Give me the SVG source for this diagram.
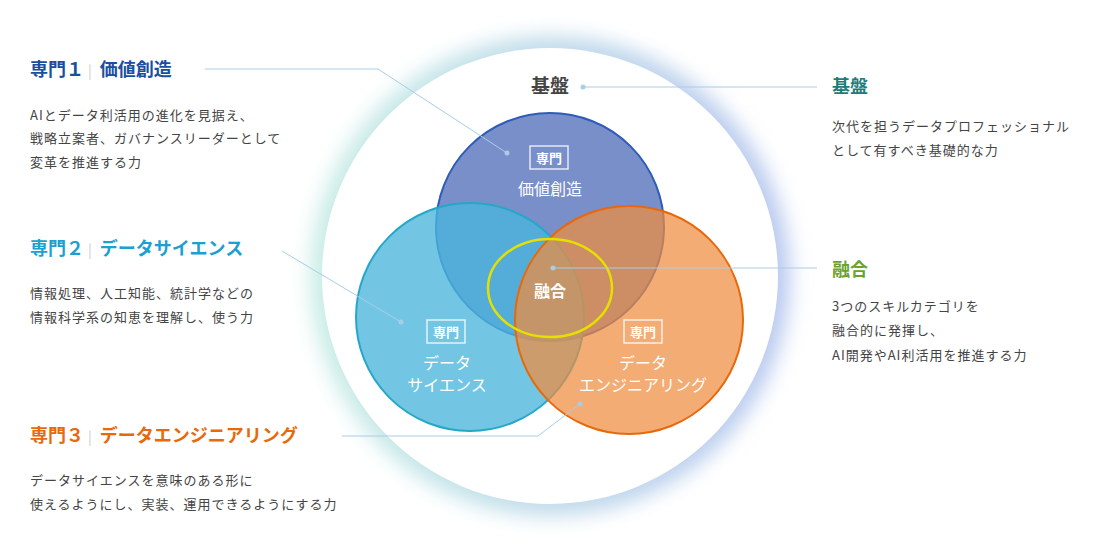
<svg xmlns="http://www.w3.org/2000/svg" width="1100" height="552" viewBox="0 0 1100 552">
<defs>
<linearGradient id="g" x1="0" y1="0" x2="1" y2="0"><stop offset="0" stop-color="#c9eee6"/><stop offset="1" stop-color="#b9c9f0"/></linearGradient>
<filter id="b" x="-20%" y="-20%" width="140%" height="140%"><feGaussianBlur stdDeviation="10"/></filter>
<style>
text{font-family:"Noto Sans CJK JP","Noto Sans",sans-serif}
.h{font-size:18px;font-weight:bold}
.p{font-size:13px;fill:#444;letter-spacing:1px}
.w{fill:#fff;font-size:16px;text-anchor:middle}
.bx{fill:none;stroke:#fff;stroke-width:1.5;opacity:.8}
.bt{fill:#fff;font-size:13px;font-weight:bold;text-anchor:middle}
.ln{fill:none;stroke:#a9cde6;stroke-width:1}
.dot{fill:#a9cde6}
</style>
</defs>
<rect width="1100" height="552" fill="#fff"/>
<g id="base">
<circle cx="550" cy="276" r="240" fill="url(#g)" filter="url(#b)"/>
<circle cx="550" cy="276" r="228" fill="#fff"/>
<text x="550" y="93" text-anchor="middle" font-size="19" font-weight="bold" fill="#444">基盤</text>
</g>
<g id="value">
<circle cx="550" cy="227" r="114" fill="#5a76bd" fill-opacity=".82" stroke="#2e5cb8" stroke-width="2"/>
</g>
<g id="science">
<circle cx="470" cy="317" r="114" fill="#4ab6dc" fill-opacity=".78" stroke="#25a8c8" stroke-width="2"/>
</g>
<g id="engineering">
<circle cx="629" cy="320" r="114" fill="#ee8c3e" fill-opacity=".72" stroke="#e8680a" stroke-width="2"/>
</g>
<g id="fusion">
<ellipse cx="550" cy="288" rx="62" ry="49" fill="none" stroke="#e6e000" stroke-width="2.5"/>
<text x="550" y="297" class="w" font-weight="bold">融合</text>
</g>
<g id="labels">
<rect x="530" y="146" width="38" height="23" class="bx"/><text x="549" y="163" class="bt">専門</text>
<text x="550" y="195" class="w">価値創造</text>
<rect x="427" y="320" width="38" height="23" class="bx"/><text x="446" y="337" class="bt">専門</text>
<text x="447" y="369" class="w">データ</text><text x="447" y="391" class="w">サイエンス</text>
<rect x="624" y="320" width="38" height="23" class="bx"/><text x="643" y="337" class="bt">専門</text>
<text x="643" y="369" class="w">データ</text><text x="643" y="391" class="w">エンジニアリング</text>
</g>
<g id="connectors">
<polyline class="ln" points="205,69 378,69 507,153"/><circle class="dot" cx="507" cy="153" r="2.5"/>
<line class="ln" x1="282" y1="251" x2="401" y2="322"/><circle class="dot" cx="401" cy="322" r="2.5"/>
<polyline class="ln" points="342,436 538,436 580,404"/><circle class="dot" cx="580" cy="404" r="2.5"/>
<line class="ln" x1="583" y1="87" x2="817" y2="87"/><circle class="dot" cx="583" cy="87" r="2.5"/>
<line class="ln" x1="553" y1="268" x2="817" y2="268"/><circle class="dot" cx="553" cy="268" r="2.5"/>
</g>
<g id="t1">
<text x="30" y="76" class="h" fill="#1a4fa0">専門１<tspan fill="#ccc" font-weight="normal" font-size="14" dx="4">|</tspan><tspan dx="8">価値創造</tspan></text>
<text x="30" y="120" class="p">AIとデータ利活用の進化を見据え、</text>
<text x="30" y="143" class="p">戦略立案者、ガバナンスリーダーとして</text>
<text x="30" y="167" class="p">変革を推進する力</text>
</g>
<g id="t2">
<text x="30" y="255" class="h" fill="#1aa0d2">専門２<tspan fill="#ccc" font-weight="normal" font-size="14" dx="4">|</tspan><tspan dx="8">データサイエンス</tspan></text>
<text x="30" y="298" class="p">情報処理、人工知能、統計学などの</text>
<text x="30" y="322" class="p">情報科学系の知恵を理解し、使う力</text>
</g>
<g id="t3">
<text x="30" y="442" class="h" fill="#e8680a">専門３<tspan fill="#ccc" font-weight="normal" font-size="14" dx="4">|</tspan><tspan dx="8">データエンジニアリング</tspan></text>
<text x="30" y="485" class="p">データサイエンスを意味のある形に</text>
<text x="30" y="509" class="p">使えるようにし、実装、運用できるようにする力</text>
</g>
<g id="t4">
<text x="832" y="93" class="h" fill="#1e7d7a">基盤</text>
<text x="832" y="131" class="p">次代を担うデータプロフェッショナル</text>
<text x="832" y="155" class="p">として有すべき基礎的な力</text>
</g>
<g id="t5">
<text x="832" y="276" class="h" fill="#6aa32a">融合</text>
<text x="832" y="311" class="p">3つのスキルカテゴリを</text>
<text x="832" y="335" class="p">融合的に発揮し、</text>
<text x="832" y="360" class="p">AI開発やAI利活用を推進する力</text>
</g>
</svg>
